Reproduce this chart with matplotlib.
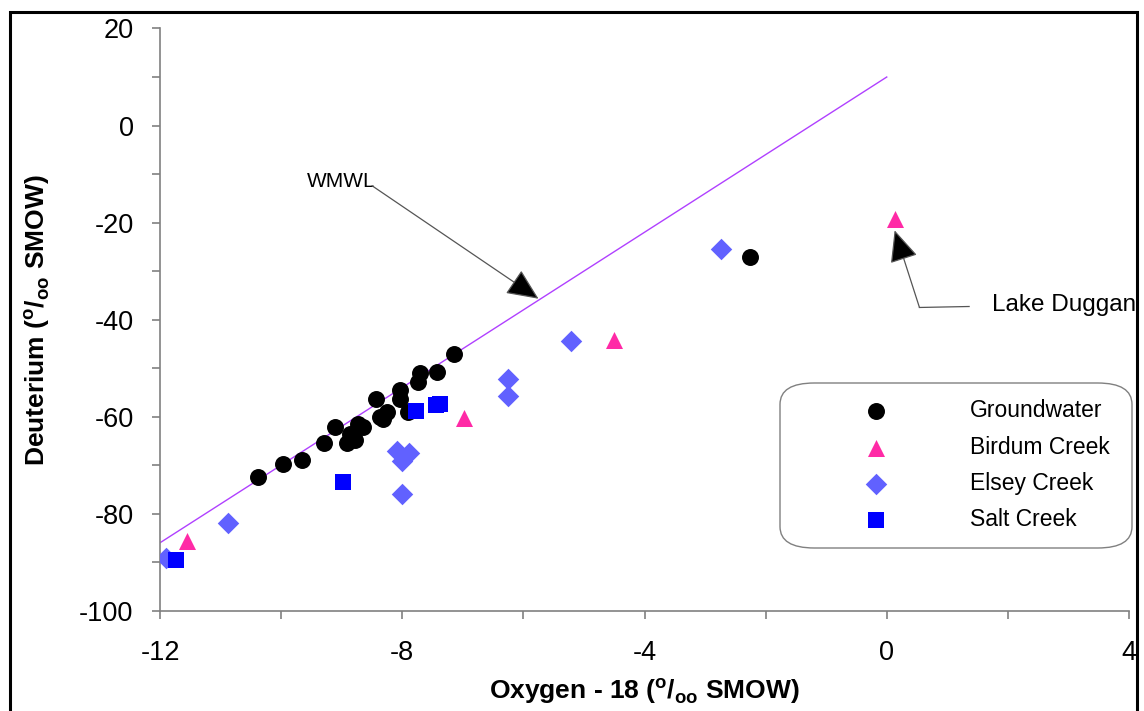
import matplotlib
matplotlib.use("Agg")
import matplotlib.pyplot as plt
from matplotlib.patches import FancyBboxPatch, Rectangle

plt.rcParams['font.family'] = ['Liberation Sans', 'DejaVu Sans']
plt.rcParams['axes.unicode_minus'] = False
plt.rcParams['mathtext.fontset'] = 'custom'
plt.rcParams['mathtext.bf'] = 'Liberation Sans:bold'
plt.rcParams['mathtext.rm'] = 'Liberation Sans'

# ---- data ----
gw_o18 = [-10.38, -9.97, -9.66, -9.29, -9.11, -8.92, -8.87, -8.78, -8.73, -8.65,
          -8.44, -8.37, -8.32, -8.25, -8.04, -8.04, -7.91, -7.74, -7.70, -7.43,
          -7.15, -2.25]
gw_d = [-72.4, -69.8, -68.9, -65.5, -62.2, -65.5, -63.6, -64.9, -61.5, -62.2,
        -56.4, -60.1, -60.5, -59.1, -54.6, -56.4, -59.1, -52.9, -51.1, -50.7,
        -47.0, -27.2]

birdum_o18 = [-11.56, -6.98, -4.51, 0.14]
birdum_d = [-85.6, -60.3, -44.3, -19.2]

elsey_o18 = [-11.90, -10.88, -8.09, -7.89, -8.00, -8.01, -6.26, -6.25, -5.22, -2.73]
elsey_d = [-89.1, -82.0, -67.0, -67.4, -69.2, -75.9, -52.2, -55.7, -44.5, -25.4]

salt_o18 = [-11.74, -8.98, -7.78, -7.45, -7.38]
salt_d = [-89.5, -73.4, -58.8, -57.7, -57.4]

wmwl_o18 = [-12, 0]
wmwl_d = [-86, 10]

x_ticks = [-12, -8, -4, 0, 4]
y_ticks = [-100, -80, -60, -40, -20, 0, 20]

W, H = 1144, 711
fig = plt.figure(figsize=(W / 100, H / 100), dpi=100)
ax = fig.add_axes([160 / W, 1 - 610.7 / H, (1129 - 160) / W, (610.7 - 28.5) / H])

ax.plot(wmwl_o18, wmwl_d, color='#b040ff', lw=1.0, zorder=2)

ax.scatter(gw_o18, gw_d, s=125, marker='o', color='black', zorder=3, label='Groundwater')
ax.scatter(birdum_o18, birdum_d, s=150, marker='^', color='#ff2aa6', zorder=3, label='Birdum Creek', linewidths=0)
ax.scatter(elsey_o18, elsey_d, s=120, marker='D', color='#6161ff', zorder=3, label='Elsey Creek', linewidths=0)
ax.scatter(salt_o18, salt_d, s=135, marker='s', color='#0000ff', zorder=3, label='Salt Creek', linewidths=0)

ax.set_xlim(-12, 4)
ax.set_ylim(-100, 20)
ax.set_xticks(x_ticks)
ax.set_xticks(range(-10, 4, 4), minor=True)
ax.set_yticks(y_ticks)
ax.set_yticks(range(-90, 20, 20), minor=True)
ax.set_xticklabels([str(v) for v in x_ticks])
ax.set_yticklabels([str(v) for v in y_ticks])

for side in ['top', 'right']:
    ax.spines[side].set_visible(False)
for side in ['left', 'bottom']:
    ax.spines[side].set_color('#808080')
    ax.spines[side].set_linewidth(1.2)
ax.tick_params(which='both', direction='out', length=6, width=1.2, color='#808080')
ax.tick_params(axis='x', which='major', labelsize=19.5, pad=15)
ax.tick_params(axis='y', which='major', labelsize=19.5, pad=13)

fig.text(644 / W, 1 - 691 / H, r'Oxygen - 18 ($^{\mathbf{o}}$/$_{\mathbf{oo}}$ SMOW)',
         ha='center', va='center', fontsize=19, fontweight='bold')
fig.text(37 / W, 1 - 320 / H, r'Deuterium ($^{\mathbf{o}}$/$_{\mathbf{oo}}$ SMOW)',
         ha='center', va='center', fontsize=19, fontweight='bold', rotation=90)

# WMWL annotation
ax.text(-9.0, -11.5, 'WMWL', ha='center', va='center', fontsize=15)
ax.annotate('', xy=(-5.75, -35.7), xytext=(-8.5, -12.4),
            arrowprops=dict(arrowstyle='-|>,head_length=1.0,head_width=0.45',
                            mutation_scale=20, facecolor='black', edgecolor='#555555',
                            lw=0.9, shrinkA=0, shrinkB=0))

# Lake Duggan annotation
ax.plot([1.36, 0.54], [-37.3, -37.5], color='#555555', lw=0.9, clip_on=False)
ax.annotate('', xy=(0.13, -21.6), xytext=(0.54, -37.5),
            arrowprops=dict(arrowstyle='-|>,head_length=1.0,head_width=0.45',
                            mutation_scale=20, facecolor='black', edgecolor='#555555',
                            lw=0.9, shrinkA=0, shrinkB=0))
ax.text(1.73, -37.0, 'Lake Duggan', ha='left', va='center', fontsize=17.5, clip_on=False)

# legend box
box = FancyBboxPatch((780 / W, 1 - 548 / H), (1132 - 780) / W, (548 - 383) / H,
                     boxstyle='round,pad=0,rounding_size=0.03', transform=fig.transFigure,
                     facecolor='white', edgecolor='#808080', lw=1.0, zorder=4, clip_on=False)
ax.add_patch(box)
leg = ax.legend(loc='upper left', bbox_to_anchor=(836 / W, 1 - 388 / H),
                bbox_transform=fig.transFigure, frameon=False, fontsize=16.5,
                handletextpad=2.85, labelspacing=0.58, handlelength=2.5,
                borderpad=0, scatterpoints=1)
leg.set_zorder(5)

# outer frame
fig.patches.append(Rectangle((10 / W, -0.05), (1137 - 10) / W, 1.05 - 12 / H,
                             transform=fig.transFigure, fill=False,
                             edgecolor='black', lw=2.2, zorder=10))

fig.savefig('out.png', dpi=100)
